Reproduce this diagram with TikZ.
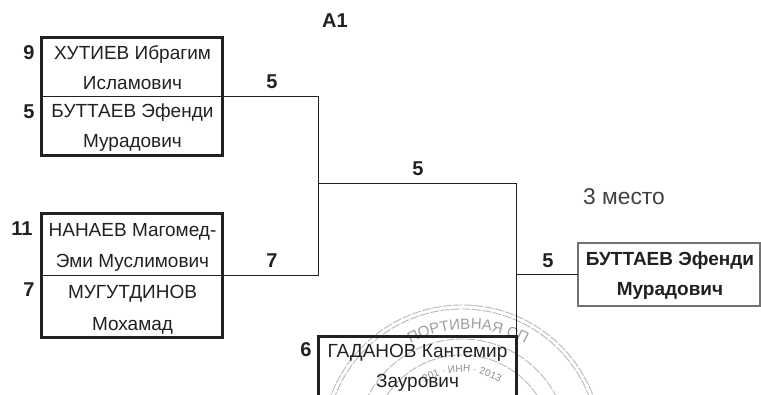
\documentclass[tikz,border=0pt]{standalone}
\usepackage{fontspec}
\setmainfont{Liberation Sans}
\usetikzlibrary{decorations.text}
\definecolor{ink}{gray}{0.13}
\tikzset{
  x=1pt,y=-1pt,
  frame/.style={draw=ink,line width=3pt,fill=none,outer sep=0pt,inner sep=0pt},
  framegray/.style={draw=black!55,line width=2.8pt,fill=white,outer sep=0pt,inner sep=0pt},
  rule/.style={draw=ink,line width=1pt},
  nm/.style={font=\fontsize{19}{22}\selectfont,text=ink,inner sep=0pt,anchor=base},
  nmb/.style={font=\fontsize{19}{22}\bfseries\selectfont,text=ink,inner sep=0pt,anchor=base},
  num/.style={font=\fontsize{20}{22}\bfseries\selectfont,text=ink,inner sep=0pt,anchor=base},
  plain/.style={font=\fontsize{22.8}{24}\selectfont,text=black!75,inner sep=0pt,anchor=base},
  stampline/.style={draw=black!28,line width=0.9pt,dash pattern=on 9pt off 1.5pt}
}
\begin{document}
\begin{tikzpicture}
\useasboundingbox (0,0) rectangle (761,395);
\begin{scope}
\clip (0,0) rectangle (761,395);
\coordinate (sc) at (462,445);
\draw[stampline] (sc) circle (140);
\draw[stampline] (sc) circle (136);
\draw[stampline] (sc) circle (106);
\draw[stampline] (sc) circle (90);
\path[decorate,decoration={text along path,text align=center,
  text={|\fontsize{15}{16}\selectfont\color{black!38}|ПОРТИВНАЯ СП}}]
  (384.6,363.6) .. controls (430.7,317.5) and (505.3,317.5) .. (551.4,363.6);
\path[decorate,decoration={text along path,text align=center,
  text={|\fontsize{10}{11}\selectfont\color{black!45}|201 · ИНН · 2013}}]
  (410.4,393.4) .. controls (438.9,364.9) and (485.1,364.9) .. (513.6,393.4);
\end{scope}
% boxes
\node[frame,minimum width=181,minimum height=118,anchor=north west] (b1) at (41.5,37.5) {};
\node[frame,minimum width=181,minimum height=123.5,anchor=north west] (b2) at (41.5,214) {};
\node[frame,minimum width=198,minimum height=90,anchor=north west] (b3) at (318.5,336.5) {};
\node[framegray,minimum width=182,minimum height=63,anchor=north west] (b4) at (578,243) {};
% dividers and junctions
\coordinate (d1l) at (41.5,96.5); \coordinate (d1r) at (222.5,96.5);
\coordinate (d2l) at (41.5,276); \coordinate (d2r) at (222.5,276);
\coordinate (v1) at (318.5,96.5); \coordinate (v2) at (318.5,276);
\coordinate (m1) at (318.5,184); \coordinate (m2) at (516.5,184);
\coordinate (m3) at (516.5,275);
\draw[rule] (d1l) -- (d1r);
\draw[rule] (d2l) -- (d2r);
\draw[rule] (d1r) -- (v1) -- (v2) -- (d2r);
\draw[rule] (m1) -- (m2) -- (b3.north east);
\draw[rule] (m3) -- (b4.west |- m3);
% names
\node[nm] (n1) at (132.5,60) {ХУТИЕВ Ибрагим};
\node[nm] (n2) at (132.5,90) {Исламович};
\node[nm] (n3) at (132.5,118) {БУТТАЕВ Эфенди};
\node[nm] (n4) at (132.5,148) {Мурадович};
\node[nm] (n5) at (132.5,237) {НАНАЕВ Магомед-};
\node[nm] (n6) at (132.5,268) {Эми Муслимович};
\node[nm] (n7) at (132.5,299) {МУГУТДИНОВ};
\node[nm] (n8) at (132.5,331) {Мохамад};
\node[nm] (n9) at (417.5,358) {ГАДАНОВ Кантемир};
\node[nm] (n10) at (417.5,388) {Заурович};
\node[nmb] (n11) at (670,266) {БУТТАЕВ Эфенди};
\node[nmb] (n12) at (670,296) {Мурадович};
% numbers
\node[num] (s1) at (29,60) {9};
\node[num] (s2) at (29,119) {5};
\node[num] (s3) at (22,236) {11};
\node[num] (s4) at (29,297) {7};
\node[num] (s5) at (306,357) {6};
\node[num] (w1) at (272,89) {5};
\node[num] (w2) at (272,268) {7};
\node[num] (w3) at (418,176) {5};
\node[num] (w4) at (548,268) {5};
\node[num] (t) at (335,28) {А1};
\node[plain] (p) at (624,205) {3 место};
\end{tikzpicture}
\end{document}
